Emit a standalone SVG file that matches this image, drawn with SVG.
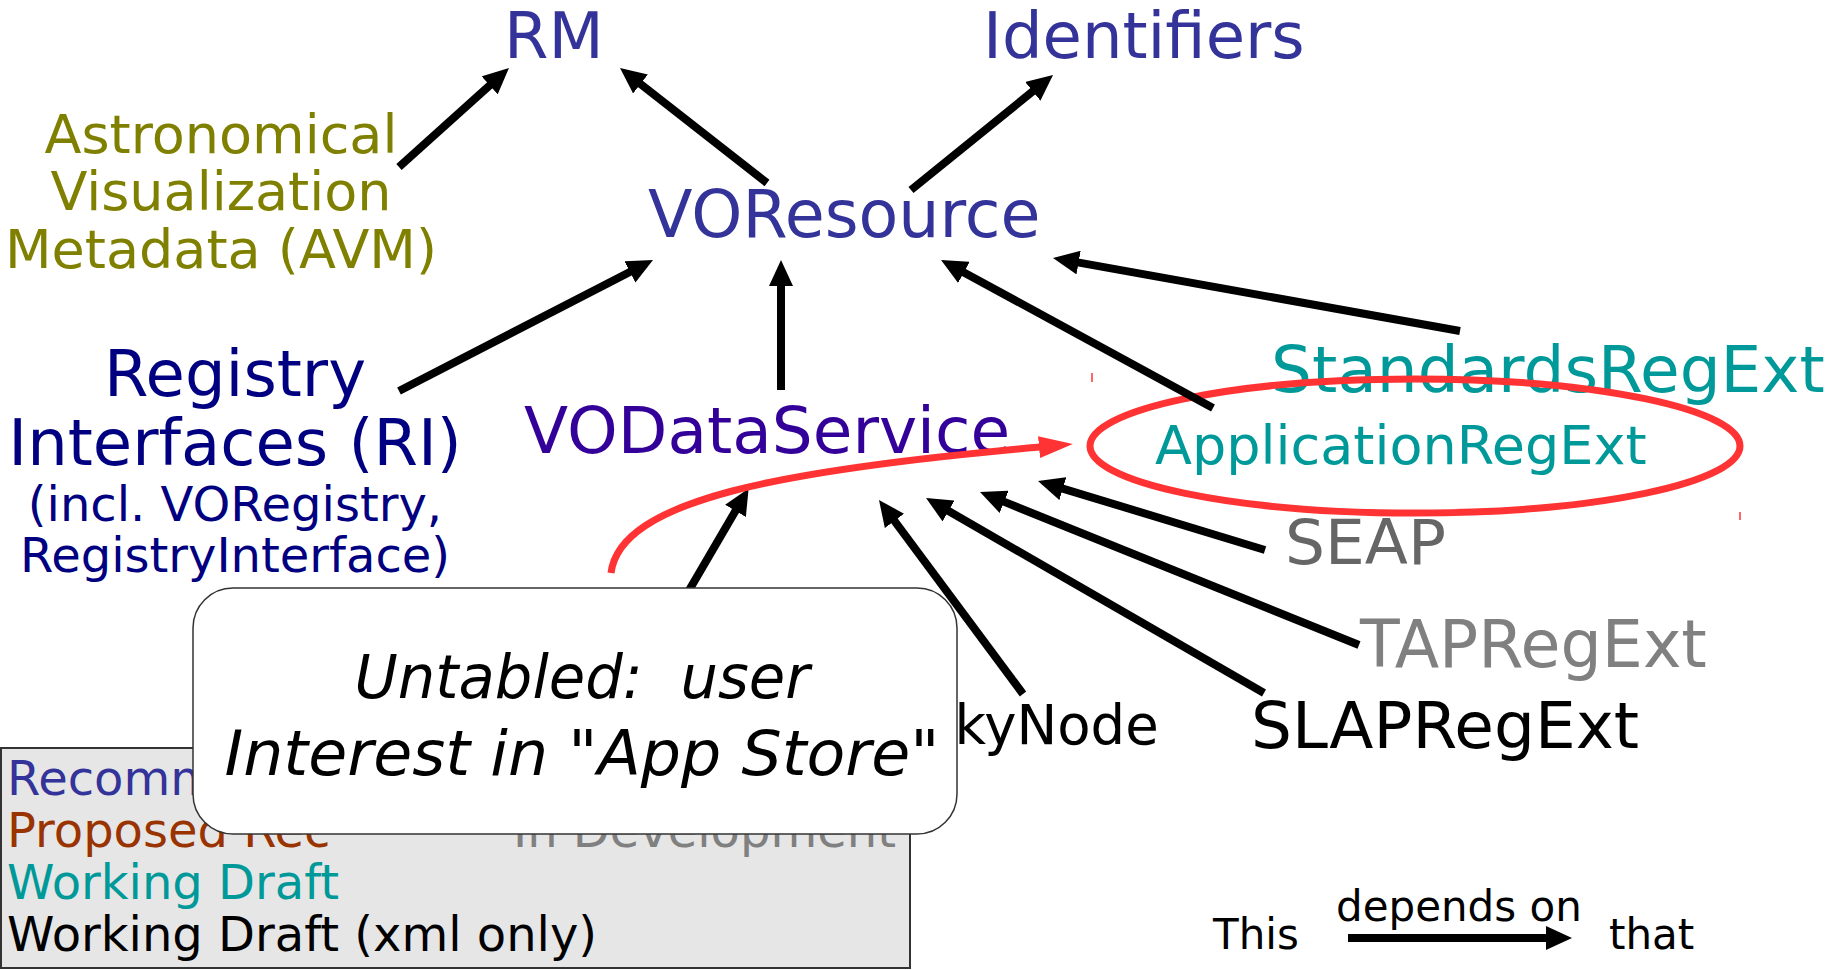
<svg xmlns="http://www.w3.org/2000/svg" width="1833" height="970" viewBox="0 0 1833 970">
<style>
text{font-family:"DejaVu Sans","Liberation Sans",sans-serif;}
.c{stroke:#000;stroke-width:8;fill:none;marker-end:url(#ah);}
.blue{fill:#333399;}
.navy{fill:#000080;}
.olive{fill:#808000;}
.teal{fill:#009999;}
.mid{text-anchor:middle;}
</style>
<defs>
<marker id="ah" markerUnits="userSpaceOnUse" viewBox="0 0 26 24" markerWidth="26" markerHeight="24" refX="1" refY="12" orient="auto"><path d="M0,0 L26,12 L0,24 z" fill="#000"/></marker>
<marker id="rh" markerUnits="userSpaceOnUse" viewBox="0 0 34 22" markerWidth="34" markerHeight="22" refX="1" refY="11" orient="auto"><path d="M0,0 L34,11 L0,22 z" fill="#ff3333"/></marker>
</defs>
<rect width="1833" height="970" fill="#fff"/>

<g id="legend">
<rect x="1" y="748" width="909" height="220" fill="#e6e6e6" stroke="#333" stroke-width="2"/>
<text x="7" y="795" font-size="48" fill="#333399">Recommendation</text>
<text x="7" y="847" font-size="48" fill="#993300">Proposed Rec</text>
<text x="513" y="847" font-size="48" fill="#808080">In Development</text>
<text x="7" y="899" font-size="48" fill="#009999">Working Draft</text>
<text x="7" y="951" font-size="48" fill="#000">Working Draft (xml only)</text>
</g>

<g id="node-rm"><text class="blue" x="504" y="58" font-size="64">RM</text></g>
<g id="node-identifiers"><text class="blue" x="983" y="58" font-size="64">Identifiers</text></g>
<g id="node-voresource"><text class="blue" x="648" y="237" font-size="65">VOResource</text></g>
<g id="node-avm">
<text class="olive mid" x="221" y="153" font-size="54">Astronomical</text>
<text class="olive mid" x="221" y="210" font-size="54">Visualization</text>
<text class="olive mid" x="221" y="268" font-size="54">Metadata (AVM)</text>
</g>
<g id="node-ri">
<text class="navy mid" x="235" y="396" font-size="64">Registry</text>
<text class="navy mid" x="235" y="465" font-size="64">Interfaces (RI)</text>
<text class="navy mid" x="235" y="521" font-size="48">(incl. VORegistry,</text>
<text class="navy mid" x="235" y="572" font-size="48">RegistryInterface)</text>
</g>
<g id="node-vodataservice"><text x="524" y="453" font-size="64.5" fill="#330099">VODataService</text></g>
<g id="node-standardsregext"><text class="teal" x="1271" y="392" font-size="64.5">StandardsRegExt</text></g>
<g id="node-applicationregext">
<text class="teal" x="1155" y="464" font-size="54">ApplicationRegExt</text>
<ellipse cx="1415" cy="446" rx="325" ry="67" fill="none" stroke="#ff3333" stroke-width="7"/>
<line x1="1092" y1="373" x2="1092" y2="382" stroke="#ff3333" stroke-width="1.5"/>
<line x1="1740" y1="512" x2="1740" y2="520" stroke="#ff3333" stroke-width="1.5"/>
</g>
<g id="node-seap"><text x="1285" y="564" font-size="63" fill="#666666">SEAP</text></g>
<g id="node-tapregext"><text x="1360" y="667" font-size="65" fill="#808080">TAPRegExt</text></g>
<g id="node-slapregext"><text x="1251" y="748" font-size="64.5" fill="#000">SLAPRegExt</text></g>
<g id="node-skynode"><text x="920" y="744" font-size="54.5" fill="#000">SkyNode</text></g>

<g id="connectors">
<line class="c" x1="399" y1="167" x2="490.4" y2="84.7"/>
<line class="c" x1="767" y1="183" x2="639.7" y2="83.4"/>
<line class="c" x1="911" y1="190" x2="1033.6" y2="90.7"/>
<line class="c" x1="399" y1="391" x2="630.8" y2="271.5"/>
<line class="c" x1="781" y1="390" x2="781" y2="285"/>
<line class="c" x1="1213" y1="408" x2="963" y2="271.9"/>
<line class="c" x1="1460" y1="331" x2="1077.6" y2="262.4"/>
<line class="c" x1="1265" y1="550" x2="1061.9" y2="488.3"/>
<line class="c" x1="1359" y1="645" x2="1003.2" y2="501.4"/>
<line class="c" x1="1264" y1="693" x2="947.7" y2="510.5"/>
<line class="c" x1="1023" y1="694" x2="893.9" y2="520.1"/>
<line class="c" x1="660" y1="640" x2="736" y2="510"/>
</g>

<g id="red-arrow">
<path d="M611,573 C620,500 780,470 1040,447" fill="none" stroke="#ff3333" stroke-width="7" marker-end="url(#rh)"/>
</g>

<g id="callout">
<rect x="193" y="588" width="764" height="246" rx="40" ry="40" fill="#fff" stroke="#333" stroke-width="1.5"/>
<text x="582" y="698" font-size="60" font-style="italic" text-anchor="middle" xml:space="preserve" textLength="455" lengthAdjust="spacingAndGlyphs">Untabled:  user</text>
<text x="582" y="775" font-size="62" font-style="italic" text-anchor="middle" textLength="715" lengthAdjust="spacingAndGlyphs">Interest in "App Store"</text>
</g>

<g id="key">
<text x="1213" y="949" font-size="42">This</text>
<text x="1336" y="921" font-size="42">depends on</text>
<text x="1609" y="949" font-size="42">that</text>
<line class="c" x1="1348" y1="938" x2="1547" y2="938"/>
</g>
</svg>
